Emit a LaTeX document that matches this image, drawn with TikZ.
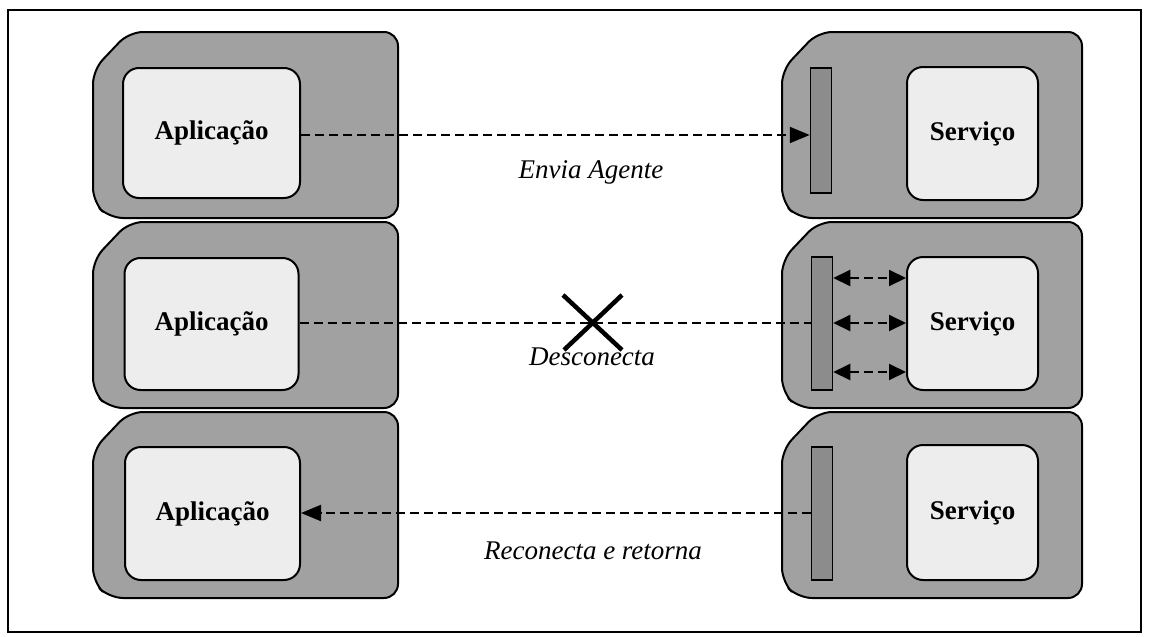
\documentclass[tikz,border=0pt]{standalone}
\usepackage{fontspec}
\setmainfont{Liberation Serif}
\usetikzlibrary{arrows.meta}

\tikzset{
  shell/.style={draw=black, line width=2pt, fill=black!37, rounded corners=14pt},
  corebox/.style={draw=black, line width=2pt, fill=black!7, rounded corners=16pt,
    inner sep=0pt, font=\bfseries\fontsize{27}{32}\selectfont},
  portbar/.style={draw=black, line width=1.5pt, fill=black!45, inner sep=0pt,
    minimum width=21pt},
  link/.style={line width=2pt, dash pattern=on 9pt off 5pt},
  tip/.style={-{Triangle[length=20pt,width=16pt]}},
  bitip/.style={{Triangle[length=17pt,width=16pt]}-{Triangle[length=17pt,width=16pt]}},
  caption/.style={font=\itshape\fontsize{27}{32}\selectfont},
  cross/.style={line width=4.5pt}
}

% outer casing of one host: corners cut on the left, rounded on the right
\newcommand{\hostshell}[4]{%
  \path[shell] (#1,#3+38) -- (#1+36,#3) -- (#2,#3) -- (#2,#4)
    -- (#1+16,#4) -- (#1,#4-16) -- cycle;}

\begin{document}
\begin{tikzpicture}[x=1pt,y=-1pt]
\useasboundingbox (0,0) rectangle (1149,637);
\draw[line width=1.5pt] (8,10) rectangle (1141,632);

% hosts, left and right
\hostshell{93}{398}{32}{218}
\hostshell{93}{398}{222}{408}
\hostshell{93}{398}{412}{598}
\hostshell{782}{1082}{32}{218}
\hostshell{782}{1082}{222}{408}
\hostshell{782}{1082}{412}{598}

% application boxes
\node[corebox, minimum width=177pt, minimum height=130pt] (app1) at (211.5,133) {Aplicação};
\node[corebox, minimum width=174pt, minimum height=132pt] (app2) at (211.5,324) {Aplicação};
\node[corebox, minimum width=175pt, minimum height=133pt] (app3) at (212.5,513.5) {Aplicação};

% service boxes
\node[corebox, minimum width=131pt, minimum height=133pt] (srv1) at (972.5,133.5) {Serviço};
\node[corebox, minimum width=131pt, minimum height=133pt] (srv2) at (972.5,323.5) {Serviço};
\node[corebox, minimum width=131pt, minimum height=135pt] (srv3) at (972.5,512.5) {Serviço};

% agent docking bars
\node[portbar, minimum height=125pt] (bar1) at (821,130.5) {};
\node[portbar, minimum height=133pt] (bar2) at (822,323.5) {};
\node[portbar, minimum height=133pt] (bar3) at (822,513.5) {};

% send agent
\draw[link, tip] (app1.east |- 0,135) -- (bar1.west |- 0,135);
\node[caption] (send) at (591,172) {Envia Agente};

% disconnected
\draw[link] (app2.east |- 0,323) -- (bar2.west |- 0,323);
\draw[cross] (563,295) -- (622,350);
\draw[cross] (622,295) -- (564,350);
\node[caption] (disc) at (592,357) {Desconecta};

% agent works with the service
\draw[link, bitip] (bar2.east |- 0,278) -- (srv2.west |- 0,278);
\draw[link, bitip] (bar2.east |- 0,323) -- (srv2.west |- 0,323);
\draw[link, bitip] (bar2.east |- 0,372) -- (srv2.west |- 0,372);

% reconnect and return
\draw[link, tip] (bar3.west |- 0,513) -- (app3.east |- 0,513);
\node[caption] (back) at (593,551) {Reconecta e retorna};
\end{tikzpicture}
\end{document}
